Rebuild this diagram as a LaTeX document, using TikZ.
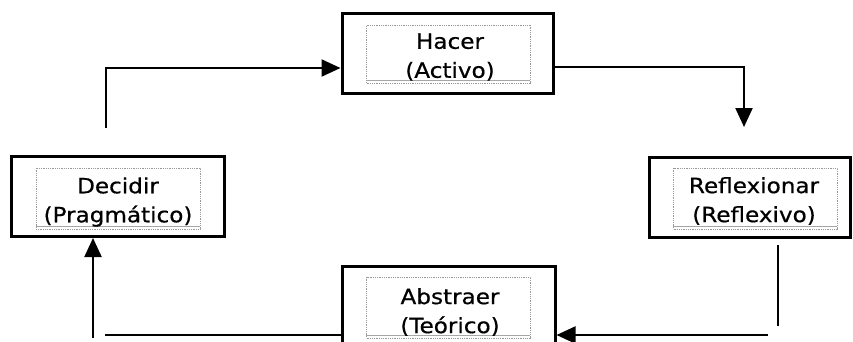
\documentclass[tikz,border=0pt]{standalone}
\usepackage{fontspec}
\newfontfamily\comic[FakeStretch=1.1,FakeBold=0.6]{DejaVu Sans}
\usetikzlibrary{arrows.meta}
\begin{document}
\begin{tikzpicture}[x=1pt,y=-1pt,
  outerbox/.style={draw=black,line width=3pt,minimum width=#1,minimum height=80pt,inner sep=0pt},
  innerbox/.style={draw=gray!80,densely dotted,line width=0.8pt,minimum width=164pt,minimum height=#1,inner sep=0pt},
  label/.style={font=\comic\fontsize{21}{29}\selectfont,align=center,inner sep=0pt,text=black},
  conn/.style={line width=2.2pt,draw=black},
  arr/.style={conn,-{Triangle[length=19pt,width=17pt]}}]
\useasboundingbox (0,0) rectangle (853,341);
% outer boxes
\node[outerbox=213pt] (decidir) at (117.5,196.5) {};
\node[outerbox=211pt] (hacer) at (447.5,53) {};
\node[outerbox=201pt] (reflex) at (749.5,197) {};
\node[outerbox=213pt] (abstraer) at (448.5,306) {};
% inner dotted boxes
\node[innerbox=61pt] (decidirI) at (118,198.5) {};
\node[innerbox=58pt] (hacerI) at (448.5,54) {};
\node[innerbox=61pt] (reflexI) at (755.5,198.5) {};
\node[innerbox=61pt] (abstraerI) at (448.5,307.5) {};
\draw[gray!70,line width=1.2pt] (decidirI.south west)++(0,-3) -- ++(164,0);
\draw[gray!70,line width=1.2pt] (hacerI.south west)++(0,-3) -- ++(164,0);
\draw[gray!70,line width=1.2pt] (reflexI.south west)++(0,-3) -- ++(164,0);
\draw[gray!70,line width=1.2pt] (abstraerI.south west)++(0,-3) -- ++(164,0);
% labels
\node[label] (decidirT) at (118,202) {Decidir\\(Pragmático)};
\node[label] (hacerT) at (450,57) {Hacer\\(Activo)};
\node[label] (reflexT) at (754,201) {Reflexionar\\(Reflexivo)};
\node[label] (abstraerT) at (450,312) {Abstraer\\(Teórico)};
% free ends
\coordinate (c1s) at (106,128);
\coordinate (c1e) at (hacer.west |- 0,68);
\coordinate (c2s) at (hacer.east |- 0,67);
\coordinate (c2e) at (744,127);
\coordinate (c3a) at (778,245);
\coordinate (c3b) at (778,326);
\coordinate (c3s) at (768,335);
\coordinate (c3e) at (abstraer.east |- 0,335);
\coordinate (c4s) at (abstraer.west |- 0,335);
\coordinate (c4e) at (105,335);
\coordinate (c4a) at (93,338);
\coordinate (c4b) at (decidir.south -| 93,0);
% connectors
\draw[arr] (c1s) |- (c1e);
\draw[arr] (c2s) -| (c2e);
\draw[conn] (c3a) -- (c3b);
\draw[arr] (c3s) -- (c3e);
\draw[conn] (c4s) -- (c4e);
\draw[arr] (c4a) -- (c4b);
\end{tikzpicture}
\end{document}
